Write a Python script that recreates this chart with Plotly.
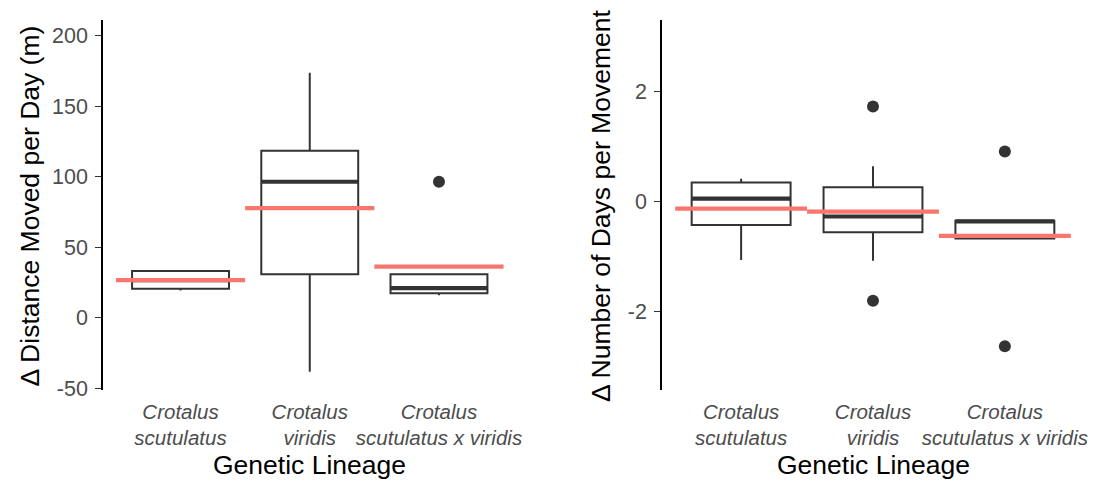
import plotly.graph_objects as go

# Genetic lineages (x categories)
lineages = ["Crotalus<br>scutulatus", "Crotalus<br>viridis", "Crotalus<br>scutulatus x viridis"]
positions = [1, 2, 3]

# Panel A: change in distance moved per day (m)
dist_q1 = [20.6, 30.8, 17.3]
dist_median = [26.7, 96.5, 21.0]
dist_q3 = [33.1, 118.5, 30.8]
dist_lower = [19.4, -38.3, 16.0]
dist_upper = [33.8, 173.8, 30.8]
dist_mean = [26.7, 77.8, 36.2]
dist_out_x = [3]
dist_out_y = [96.5]

# Panel B: change in number of days per movement
days_q1 = [-0.433, -0.563, -0.68]
days_median = [0.047, -0.279, -0.367]
days_q3 = [0.338, 0.254, -0.356]
days_lower = [-1.067, -1.084, -0.68]
days_upper = [0.409, 0.634, -0.356]
days_mean = [-0.137, -0.19, -0.63]
days_out_x = [2, 2, 3, 3]
days_out_y = [1.719, -1.807, 0.90, -2.637]

BOX_COLOR = "#333333"
MEAN_COLOR = "#F8766D"
BOX_W = 0.75
FONT = "Liberation Sans, Arial, sans-serif"

fig = go.Figure()


def add_panel(xa, ya, q1, med, q3, lo, hi, mean, ox, oy):
    fig.add_trace(go.Box(
        x=positions, q1=q1, median=med, q3=q3, lowerfence=lo, upperfence=hi,
        width=BOX_W, whiskerwidth=0, boxpoints=False,
        fillcolor="white", line=dict(color=BOX_COLOR, width=2),
        xaxis=xa, yaxis=ya, showlegend=False, hoverinfo="skip",
    ))
    # thick median bars
    for p, m in zip(positions, med):
        fig.add_trace(go.Scatter(
            x=[p - BOX_W / 2, p + BOX_W / 2], y=[m, m], mode="lines",
            line=dict(color=BOX_COLOR, width=4.2),
            xaxis=xa, yaxis=ya, showlegend=False, hoverinfo="skip",
        ))
    # outliers
    fig.add_trace(go.Scatter(
        x=ox, y=oy, mode="markers",
        marker=dict(color=BOX_COLOR, size=12),
        xaxis=xa, yaxis=ya, showlegend=False, hoverinfo="skip",
    ))
    # group means
    for p, m in zip(positions, mean):
        fig.add_trace(go.Scatter(
            x=[p - 0.5, p + 0.5], y=[m, m], mode="lines",
            line=dict(color=MEAN_COLOR, width=4.2),
            xaxis=xa, yaxis=ya, showlegend=False, hoverinfo="skip",
        ))


add_panel("x", "y", dist_q1, dist_median, dist_q3, dist_lower, dist_upper,
          dist_mean, dist_out_x, dist_out_y)
add_panel("x2", "y2", days_q1, days_median, days_q3, days_lower, days_upper,
          days_mean, days_out_x, days_out_y)

W, H = 1106, 483
ydom = [93 / H, 1 - 20 / H]
left_dom = [103 / W, 516.5 / W]
right_dom = [662 / W, 1084 / W]

xcommon = dict(
    range=[0.4, 3.6], tickvals=positions, ticktext=lineages, tickangle=0,
    showline=False, showgrid=False, zeroline=False, ticks="",
    tickfont=dict(family=FONT, size=20.5, color="#4D4D4D", style="italic"),
    ticklabelstandoff=7, automargin=False,
)
ycommon = dict(
    showline=True, linecolor="#000000", linewidth=1.6,
    ticks="outside", ticklen=6, tickwidth=1.4, tickcolor="#333333",
    showgrid=False, zeroline=False, ticklabelstandoff=3, automargin=False,
    tickfont=dict(family=FONT, size=21.5, color="#4D4D4D"),
    domain=ydom,
)

fig.update_layout(
    width=W, height=H, autosize=False,
    margin=dict(l=0, r=0, t=0, b=0, pad=0),
    paper_bgcolor="white", plot_bgcolor="white",
    xaxis=dict(xcommon, domain=left_dom, anchor="y"),
    xaxis2=dict(xcommon, domain=right_dom, anchor="y2"),
    yaxis=dict(ycommon, range=[-51.3, 211.3], tickvals=[-50, 0, 50, 100, 150, 200],
               ticktext=["-50", "0", "50", "100", "150", "200"], anchor="x"),
    yaxis2=dict(ycommon, range=[-3.43, 3.29], tickvals=[-2, 0, 2],
                ticktext=["-2", "0", "2"], anchor="x2"),
)

title_font = dict(family=FONT, size=26.5, color="#000000")
annotations = [
    dict(text="Genetic Lineage", x=sum(left_dom) / 2, y=(H - 465) / H),
    dict(text="Genetic Lineage", x=sum(right_dom) / 2, y=(H - 465) / H),
    dict(text="Δ Distance Moved per Day (m)", x=29.5 / W, y=(H - 206) / H, textangle=-90),
    dict(text="Δ Number of Days per Movement", x=601 / W, y=(H - 206) / H, textangle=-90),
]
for a in annotations:
    fig.add_annotation(xref="paper", yref="paper", showarrow=False,
                       xanchor="center", yanchor="middle", font=title_font, **a)

fig.write_html("out.html")
